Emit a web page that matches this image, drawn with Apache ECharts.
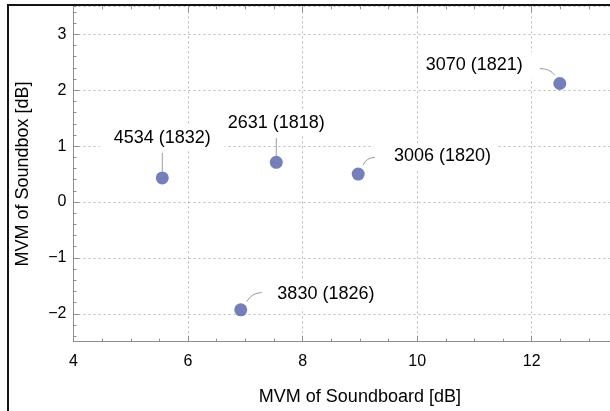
<!DOCTYPE html>
<html>
<head>
<meta charset="utf-8">
<style>
  html, body { margin: 0; padding: 0; background: #fff; }
  #chart { width: 610px; height: 411px; }
</style>
<script src="https://cdn.jsdelivr.net/npm/echarts@6/dist/echarts.min.js"></script>
</head>
<body>
<div id="chart"></div>
<script>
// Instruments: serial number, year built, and MVM values (dB)
const pianoIds    = ['4534', '2631', '3006', '3070', '3830'];
const buildYears  = ['1832', '1818', '1820', '1821', '1826'];
const boardMVM    = [5.55, 7.54, 8.97, 12.49, 6.92];
const boxMVM      = [0.43, 0.71, 0.50, 2.12, -1.93];

// Callout geometry in pixels, relative to each marker centre:
// box anchor offset, alignment, box padding, and the leader curve (start, control, end)
const calloutLayout = [
  { dx: 0,     dy: -39.5, align: 'center', padding: [3, 14, 3, 14], lead: [[0, -6.5], [0, -15], [0, -25]] },
  { dx: 0,     dy: -39.6, align: 'center', padding: [3, 10, 3, 10], lead: [[0, -6.5], [0, -15], [0, -24.3]] },
  { dx: 15.7,  dy: -18,   align: 'left',   padding: [4, 6, 4, 20],  lead: [[5, -9], [8, -16.5], [16.7, -16.7]] },
  { dx: -23,   dy: -18.3, align: 'right',  padding: [4, 14, 4, 6],  lead: [[-5, -8.3], [-10, -15], [-20, -15]] },
  { dx: 26.6,  dy: -16.3, align: 'left',   padding: [4, 6, 8, 10],  lead: [[6, -8.3], [11, -17], [21, -17.3]] }
];

const FONT = "'Liberation Sans', Arial, Helvetica, sans-serif";
const AXIS_GRAY = '#8f8f8f';
const GRID_GRAY = '#b9b9b9';
const LEADER_GRAY = '#9c9c9c';
const TEXT = '#000000';

const points = boardMVM.map((x, i) => [x, boxMVM[i]]);

const chart = echarts.init(document.getElementById('chart'), null, { renderer: 'canvas' });

const xCommon = { type: 'value', min: 4, max: 14, interval: 2 };

function renderCallout(params, api) {
  const i = params.dataIndex;
  const c = calloutLayout[i];
  const p = api.coord([api.value(0), api.value(1)]);
  const L = c.lead;
  return {
    type: 'group',
    children: [
      {
        type: 'text',
        x: p[0] + c.dx,
        y: p[1] + c.dy,
        style: {
          text: pianoIds[i] + ' (' + buildYears[i] + ')',
          fontFamily: FONT,
          fontSize: 18,
          lineHeight: 18,
          fill: TEXT,
          align: c.align,
          verticalAlign: 'middle',
          backgroundColor: '#ffffff',
          padding: c.padding
        }
      },
      {
        type: 'bezierCurve',
        shape: {
          x1: p[0] + L[0][0], y1: p[1] + L[0][1],
          cpx1: p[0] + L[1][0], cpy1: p[1] + L[1][1],
          x2: p[0] + L[2][0], y2: p[1] + L[2][1]
        },
        style: { stroke: LEADER_GRAY, lineWidth: 1, fill: null }
      }
    ]
  };
}

chart.setOption({
  animation: false,
  backgroundColor: '#fff',
  grid: {
    left: 73.5, top: 6.4, right: -36.3, height: 335.3,
    outerBoundsMode: 'none', containLabel: false
  },
  xAxis: [
    Object.assign({}, xCommon, {
      position: 'bottom',
      name: 'MVM of Soundboard [dB]',
      nameLocation: 'middle',
      nameGap: 46,
      nameTextStyle: { fontFamily: FONT, fontSize: 18, color: TEXT },
      axisLine: { show: true, onZero: false, lineStyle: { color: AXIS_GRAY, width: 1 } },
      axisTick: { show: true, inside: true, length: 6, lineStyle: { color: AXIS_GRAY } },
      minorTick: { show: true, splitNumber: 4, length: 3, lineStyle: { color: AXIS_GRAY } },
      axisLabel: { fontFamily: FONT, fontSize: 16, color: TEXT, margin: 12 },
      splitLine: { show: true, lineStyle: { color: GRID_GRAY, type: [2, 3], width: 1 } }
    }),
    Object.assign({}, xCommon, {
      position: 'top',
      axisLine: { show: false, onZero: false },
      axisTick: { show: true, inside: true, length: 6, lineStyle: { color: AXIS_GRAY } },
      minorTick: { show: true, splitNumber: 4, length: 3, lineStyle: { color: AXIS_GRAY } },
      axisLabel: { show: false },
      splitLine: { show: false }
    })
  ],
  yAxis: [
    {
      type: 'value', min: -2.5, max: 3.5, splitNumber: 6,
      position: 'left',
      name: 'MVM of Soundbox [dB]',
      nameLocation: 'middle',
      nameGap: 41,
      nameTextStyle: { fontFamily: FONT, fontSize: 18, color: TEXT },
      axisLine: { show: true, onZero: false, lineStyle: { color: AXIS_GRAY, width: 1 } },
      axisTick: { show: true, inside: true, length: 6, lineStyle: { color: AXIS_GRAY } },
      axisLabel: {
        fontFamily: FONT, fontSize: 16, color: TEXT, margin: 7,
        showMinLabel: false, showMaxLabel: false,
        formatter: v => String(v).replace('-', '\u2212')
      },
      splitLine: { show: true, lineStyle: { color: GRID_GRAY, type: [2, 3], width: 1 } }
    },
    {
      // fine ticks every 0.2 dB
      type: 'value', min: -2.5, max: 3.5, splitNumber: 30,
      position: 'left',
      axisLine: { show: false, onZero: false },
      axisTick: { show: true, inside: true, length: 3, lineStyle: { color: AXIS_GRAY } },
      axisLabel: { show: false },
      splitLine: { show: false }
    }
  ],
  series: [
    {
      type: 'custom',
      name: 'callouts',
      coordinateSystem: 'cartesian2d',
      xAxisIndex: 0,
      yAxisIndex: 0,
      encode: { x: 0, y: 1 },
      clip: false,
      silent: true,
      renderItem: renderCallout,
      data: points
    },
    {
      type: 'scatter',
      name: 'instruments',
      xAxisIndex: 0,
      yAxisIndex: 0,
      symbol: 'circle',
      symbolSize: 13,
      itemStyle: { color: '#5360a9' },
      emphasis: { disabled: true },
      z: 3,
      data: points
    }
  ],
  graphic: [{
    type: 'rect',
    z: 100,
    silent: true,
    shape: { x: 8, y: 5, width: 700, height: 500 },
    style: { fill: 'none', stroke: '#141414', lineWidth: 2 }
  }]
});
</script>
</body>
</html>
